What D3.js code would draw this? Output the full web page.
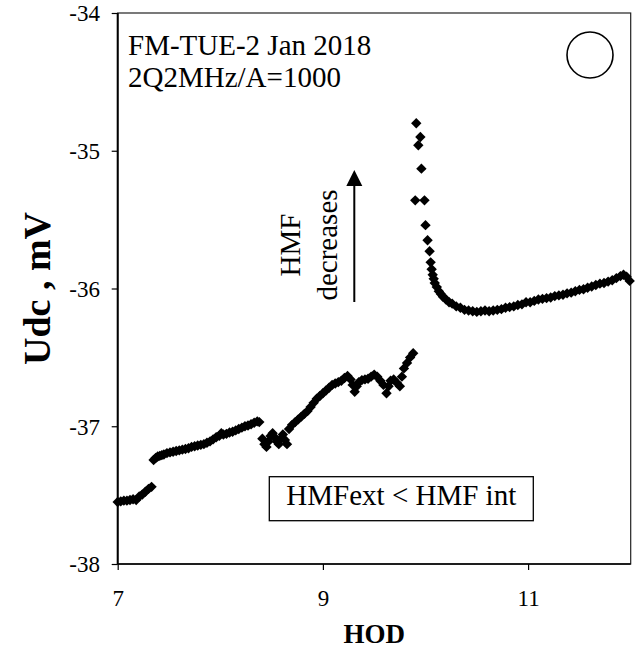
<!DOCTYPE html>
<html>
<head>
<meta charset="utf-8">
<script src="https://cdn.jsdelivr.net/npm/d3@7"></script>
<style>
  body { margin: 0; background: #fff; }
  svg text { font-family: "Times New Roman", "Liberation Serif", serif; fill: #000; }
</style>
</head>
<body>
<div class="chart"></div>
<script>
// values
const xTicks = [7, 9, 11]
const yTicks = [-38, -37, -36, -35, -34]

const hod = [
  // early morning, low level
  7.00, 7.03, 7.06, 7.09, 7.12, 7.15, 7.18, 7.21, 7.24, 7.27, 7.30, 7.33,
  // slow rise
  7.35, 7.37, 7.39, 7.41, 7.43, 7.45, 7.48, 7.51, 7.54, 7.57, 7.60, 7.63, 7.66, 7.69,
  7.72, 7.75, 7.78, 7.81, 7.84, 7.87, 7.90, 7.93, 7.96, 7.99, 8.01, 8.03, 8.06, 8.09,
  8.12, 8.15, 8.18, 8.21, 8.24, 8.27, 8.30, 8.33, 8.36, 8.38,
  // scatter near 8.5
  8.41, 8.43, 8.45, 8.47, 8.49, 8.51, 8.53, 8.55, 8.57, 8.59, 8.61, 8.63, 8.65,
  8.67, 8.70, 8.73, 8.76, 8.79, 8.82, 8.85, 8.88, 8.91, 8.94, 8.97, 9.00, 9.03, 9.06, 9.09,
  9.12, 9.15, 9.18, 9.21, 9.24, 9.27, 9.29, 9.31, 9.33, 9.35, 9.38, 9.41, 9.44, 9.47,
  9.50, 9.53, 9.56, 9.59, 9.62, 9.64, 9.66, 9.69, 9.72, 9.75, 9.77, 9.79, 9.82, 9.85, 9.88,
  // jump and relaxation
  9.91, 9.93, 9.95, 9.96, 9.90, 9.99, 10.00, 10.02, 10.04, 10.05, 10.06, 10.07, 10.08,
  10.09, 10.11, 10.13, 10.15, 10.17, 10.20, 10.23, 10.26, 10.30, 10.34, 10.38, 10.42,
  10.46, 10.50, 10.54, 10.58, 10.62, 10.66, 10.70, 10.74, 10.78, 10.82, 10.86, 10.90,
  10.94, 10.98, 11.02, 11.06, 11.10, 11.14, 11.18, 11.22, 11.26, 11.30, 11.34, 11.38,
  11.42, 11.46, 11.50, 11.54, 11.58, 11.62, 11.66, 11.70, 11.74, 11.78, 11.82, 11.86,
  11.90, 11.93, 11.96, 11.99
]

const udc = [
  -37.55, -37.545, -37.54, -37.54, -37.535, -37.53, -37.535, -37.51, -37.495, -37.475, -37.455, -37.44,
  -37.245, -37.23, -37.22, -37.215, -37.21, -37.205, -37.195, -37.19, -37.185, -37.18, -37.175, -37.17, -37.165, -37.16,
  -37.15, -37.145, -37.14, -37.135, -37.13, -37.12, -37.11, -37.095, -37.08, -37.07, -37.05, -37.06, -37.055, -37.045,
  -37.04, -37.03, -37.02, -37.01, -37.0, -36.995, -36.985, -36.975, -36.965, -36.97,
  -37.09, -37.13, -37.15, -37.11, -37.07, -37.05, -37.08, -37.11, -37.13, -37.09, -37.06, -37.10, -37.13,
  -37.02, -36.99, -36.97, -36.95, -36.93, -36.91, -36.89, -36.86, -36.83, -36.80, -36.78, -36.76, -36.74, -36.72, -36.70,
  -36.69, -36.68, -36.67, -36.65, -36.635, -36.66, -36.70, -36.75, -36.71, -36.68, -36.665, -36.66, -36.655, -36.64,
  -36.625, -36.64, -36.67, -36.70, -36.76, -36.71, -36.67, -36.66, -36.685, -36.71, -36.64, -36.58, -36.54, -36.50, -36.47,
  -34.80, -34.96, -34.90, -35.13, -35.36, -35.36, -35.54, -35.65, -35.73, -35.81, -35.86, -35.90, -35.93,
  -35.96, -35.99, -36.02, -36.04, -36.06, -36.08, -36.10, -36.11, -36.13, -36.14, -36.155, -36.16,
  -36.165, -36.17, -36.165, -36.16, -36.165, -36.16, -36.155, -36.15, -36.14, -36.135, -36.13, -36.12,
  -36.115, -36.10, -36.10, -36.09, -36.08, -36.075, -36.07, -36.065, -36.055, -36.05, -36.045, -36.035,
  -36.03, -36.02, -36.01, -36.005, -35.995, -35.985, -35.975, -35.965, -35.96, -35.95, -35.94, -35.925,
  -35.91, -35.90, -35.915, -35.945
]

const svgWidth = 637
const svgHeight = 648

let margin = { top: 13, right: 6.3, bottom: 84, left: 117.7 }
let width = svgWidth - margin.left - margin.right
let height = svgHeight - margin.top - margin.bottom

let svg = d3.select(".chart")
  .append("svg")
  .attr("width", svgWidth)
  .attr("height", svgHeight)

let chartGroup = svg.append("g")
  .attr("transform", `translate(${margin.left}, ${margin.top})`)

let x = d3.scaleLinear().domain([7, 12]).range([0, width])
let y = d3.scaleLinear().domain([-38, -34]).range([height, 0])

// plain minus sign like the original
let fmt = d => String(d)

// plot frame
chartGroup.append("rect")
  .attr("width", width)
  .attr("height", height)
  .attr("fill", "none")
  .attr("stroke", "#222")
  .attr("stroke-width", 1.2)

let yAxis = chartGroup.append("g")
  .call(d3.axisLeft(y).tickValues(yTicks).tickSize(6).tickPadding(11.7).tickFormat(fmt))
yAxis.select(".domain").attr("stroke-width", 2).attr("d", `M0,0V${height}`)
yAxis.selectAll("text")
  .attr("font-size", "23px")
  .attr("font-family", "Times New Roman, Liberation Serif, serif")
  .attr("dy", "0.34em")

let xAxis = chartGroup.append("g")
  .attr("transform", `translate(0, ${height})`)
  .call(d3.axisBottom(x).tickValues(xTicks).tickSize(6).tickPadding(20).tickFormat(fmt))
xAxis.select(".domain").attr("stroke-width", 1.6).attr("d", `M0,0H${width}`)
xAxis.selectAll("text")
  .attr("font-size", "23px")
  .attr("font-family", "Times New Roman, Liberation Serif, serif")

svg.selectAll(".tick line").attr("stroke", "#000").attr("stroke-width", 1.2)

// data points as diamonds
let diamond = d3.symbol().type(d3.symbolSquare).size(54)
chartGroup.selectAll(".pt")
  .data(hod.map((h, i) => [h, udc[i]]))
  .enter()
  .append("path")
  .attr("class", "pt")
  .attr("d", diamond)
  .attr("transform", d => `translate(${x(d[0])}, ${y(d[1])}) rotate(45)`)
  .attr("fill", "#000")

// axis titles
svg.append("text")
  .attr("x", margin.left + width / 2)
  .attr("y", 643)
  .attr("text-anchor", "middle")
  .attr("font-weight", "bold")
  .attr("font-size", "27px")
  .text("HOD")

svg.append("text")
  .attr("transform", `translate(50, ${margin.top + height / 2}) rotate(-90)`)
  .attr("text-anchor", "middle")
  .attr("font-weight", "bold")
  .attr("font-size", "38px")
  .text("Udc , mV")

// annotations
svg.append("text").attr("x", 128).attr("y", 55).attr("font-size", "29px").text("FM-TUE-2 Jan 2018")
svg.append("text").attr("x", 128).attr("y", 87).attr("font-size", "29px").text("2Q2MHz/A=1000")

svg.append("circle")
  .attr("cx", 590).attr("cy", 55).attr("r", 23)
  .attr("fill", "none").attr("stroke", "#000").attr("stroke-width", 1.6)

svg.append("text")
  .attr("transform", "translate(300, 245) rotate(-90)")
  .attr("text-anchor", "middle").attr("font-size", "29px").text("HMF")
svg.append("text")
  .attr("transform", "translate(336.5, 245) rotate(-90)")
  .attr("text-anchor", "middle").attr("font-size", "29px").text("decreases")

svg.append("line")
  .attr("x1", 354.3).attr("x2", 354.3).attr("y1", 302).attr("y2", 182)
  .attr("stroke", "#000").attr("stroke-width", 2)
svg.append("path")
  .attr("d", "M354.3,170L362.3,186L346.3,186Z")
  .attr("fill", "#000")

svg.append("rect")
  .attr("x", 269.3).attr("y", 476.7).attr("width", 264).attr("height", 44)
  .attr("fill", "#fff").attr("stroke", "#000").attr("stroke-width", 1.3)
svg.append("text")
  .attr("x", 401.3).attr("y", 505).attr("text-anchor", "middle")
  .attr("font-size", "29px").text("HMFext < HMF int")
</script>
</body>
</html>
